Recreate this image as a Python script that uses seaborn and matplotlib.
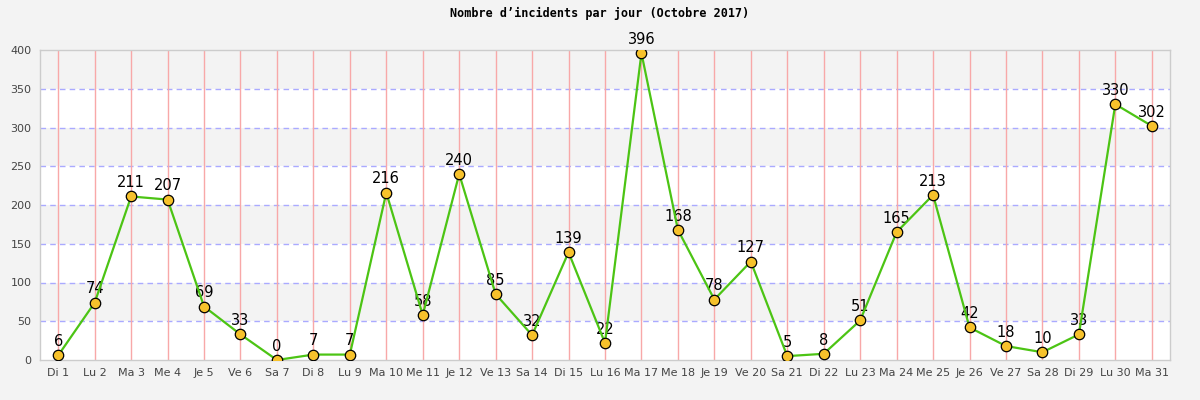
import matplotlib
matplotlib.use("Agg")
import matplotlib.pyplot as plt
import seaborn as sns
import pandas as pd

days = ["Di 1", "Lu 2", "Ma 3", "Me 4", "Je 5", "Ve 6", "Sa 7", "Di 8", "Lu 9", "Ma 10",
        "Me 11", "Je 12", "Ve 13", "Sa 14", "Di 15", "Lu 16", "Ma 17", "Me 18", "Je 19",
        "Ve 20", "Sa 21", "Di 22", "Lu 23", "Ma 24", "Me 25", "Je 26", "Ve 27", "Sa 28",
        "Di 29", "Lu 30", "Ma 31"]
incidents = [6, 74, 211, 207, 69, 33, 0, 7, 7, 216, 58, 240, 85, 32, 139, 22, 396, 168,
             78, 127, 5, 8, 51, 165, 213, 42, 18, 10, 33, 330, 302]
y_ticks = [0, 50, 100, 150, 200, 250, 300, 350, 400]
title = "Nombre d\u2019incidents par jour (Octobre 2017)"

sns.set_theme(style="white")
plt.rcParams['font.family'] = ['DejaVu Sans']

df = pd.DataFrame({"pos": range(len(days)), "day": days, "n": incidents})

fig = plt.figure(figsize=(12, 4), dpi=100, facecolor="#f3f3f3")
ax = fig.add_axes([40 / 1200, 40 / 400, 1130 / 1200, 310 / 400])
ax.set_facecolor("white")

# alternating bands
for i in range(len(y_ticks) - 1):
    if i % 2 == 1:
        ax.axhspan(y_ticks[i], y_ticks[i + 1], color="#f3f3f3", zorder=0, lw=0)

for yt in y_ticks[1:-1]:
    ax.axhline(yt, color="#aaaaff", lw=1, ls=(0, (4, 3)), zorder=1)
for p in df["pos"]:
    ax.axvline(p, color="#f8a8a8", lw=1, zorder=1)

for p, v in zip(df["pos"], df["n"]):
    ax.annotate(str(v), (p, v), xytext=(0, 4.5), textcoords="offset points",
                ha="center", va="bottom", fontsize=10.5, color="black", zorder=2,
                annotation_clip=False)

sns.lineplot(data=df, x="pos", y="n", ax=ax, color="#4cc414", lw=1.6,
             marker="o", markersize=7.5, markerfacecolor="#f7c22c",
             markeredgecolor="black", markeredgewidth=0.9, zorder=3)

ax.set_xlim(-0.5, len(days) - 0.5)
ax.set_ylim(0, 400)
ax.set_xticks(list(df["pos"]))
ax.set_xticklabels(days)
ax.set_yticks(y_ticks)
ax.tick_params(axis="both", labelsize=8, colors="#444444", length=0, pad=6)
ax.set_xlabel("")
ax.set_ylabel("")
for s in ax.spines.values():
    s.set_color("#cccccc")
    s.set_linewidth(1)

fig.text(0.5, 1 - 13 / 400, title, ha="center", va="center",
         fontsize=8.5, fontweight="bold", family=["DejaVu Sans Mono"], color="black")

fig.savefig("out.png", dpi=100, facecolor=fig.get_facecolor())
